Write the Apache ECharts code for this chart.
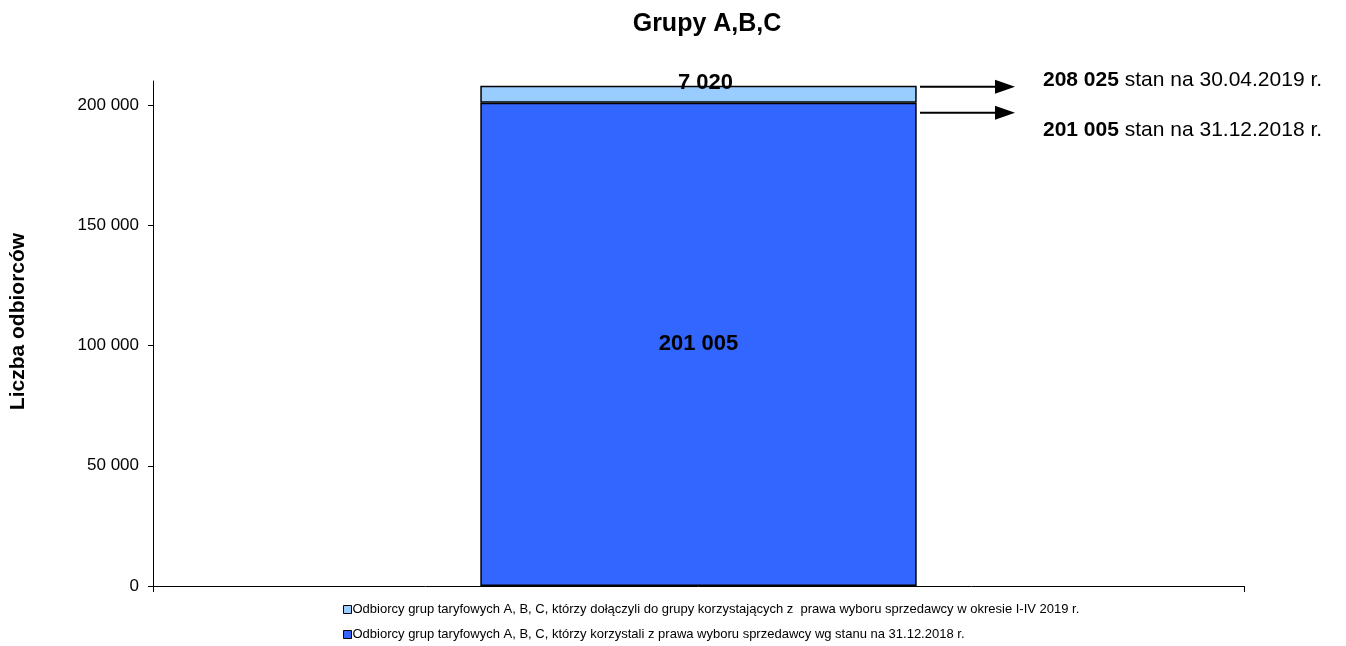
<!DOCTYPE html>
<html>
<head>
<meta charset="utf-8">
<script src="https://cdn.jsdelivr.net/npm/echarts@6/dist/echarts.min.js"></script>
<style>
html, body { margin: 0; padding: 0; background: #fff; }
#chart { width: 1346px; height: 646px; }
</style>
</head>
<body>
<div id="chart"></div>
<script>
// dane
var categories = ['Grupy A,B,C'];
var seriesNames = [
	'Odbiorcy grup taryfowych A, B, C, którzy korzystali z prawa wyboru sprzedawcy wg stanu na 31.12.2018 r.',
	'Odbiorcy grup taryfowych A, B, C, którzy dołączyli do grupy korzystających z  prawa wyboru sprzedawcy w okresie I-IV 2019 r.'
];
var baseValues = [201005];
var addedValues = [7020];
var yTicks = [0, 50000, 100000, 150000, 200000];
var notes = [
	{ value: 208025, text: 'stan na 30.04.2019 r.' },
	{ value: 201005, text: 'stan na 31.12.2018 r.' }
];

var FONT = '"Liberation Sans", Arial, sans-serif';

var fmt = function(v){
	return String(v).replace(/\B(?=(\d{3})+(?!\d))/g, ' ');
};

var chart = echarts.init(document.getElementById('chart'));

var option = {
	animation: false,
	backgroundColor: '#fff',
	textStyle: { fontFamily: FONT, color: '#000' },
	title: {
		text: 'Grupy A,B,C',
		left: 702,
		textAlign: 'center',
		top: 7,
		textStyle: { fontFamily: FONT, fontSize: 25, fontWeight: 'bold', color: '#000' }
	},
	grid: { left: 153, right: 102, top: 81, bottom: 60 },
	legend: {
		orient: 'vertical',
		left: 343,
		top: 603,
		padding: 0,
		icon: 'rect',
		itemWidth: 8,
		itemHeight: 8,
		itemGap: 12,
		itemStyle: { borderColor: '#000', borderWidth: 1 },
		textStyle: { fontFamily: FONT, fontSize: 13, color: '#000', padding: [0, 0, 0, -4] },
		data: [seriesNames[1], seriesNames[0]]
	},
	xAxis: {
		type: 'category',
		data: categories,
		axisLine: { lineStyle: { color: '#000', width: 1 } },
		axisTick: { show: true, length: 6, lineStyle: { color: '#000' } },
		axisLabel: { show: false }
	},
	yAxis: {
		type: 'value',
		min: 0,
		max: 210000,
		interval: 50000,
		name: 'Liczba odbiorców',
		nameLocation: 'middle',
		nameGap: 124,
		nameTextStyle: { fontFamily: FONT, fontSize: 21, fontWeight: 'bold', color: '#000', padding: [0, 0, 0, 24] },
		axisLine: { show: true, lineStyle: { color: '#000', width: 1 } },
		axisTick: { show: true, length: 5, customValues: yTicks, lineStyle: { color: '#000' } },
		axisLabel: {
			customValues: yTicks,
			fontFamily: FONT, fontSize: 17, color: '#000', margin: 14,
			formatter: function(v){ return fmt(v); }
		},
		splitLine: { show: false }
	},
	series: [
		{
			name: seriesNames[0],
			type: 'bar',
			stack: 'all',
			barWidth: '40%',
			data: baseValues,
			itemStyle: { color: '#3366ff', borderColor: '#000', borderWidth: 1.5 },
			label: {
				show: true,
				position: 'inside',
				fontFamily: FONT, fontSize: 22, fontWeight: 'bold', color: '#000',
				formatter: function(p){ return fmt(p.value); }
			}
		},
		{
			name: seriesNames[1],
			type: 'bar',
			stack: 'all',
			barWidth: '40%',
			data: addedValues,
			itemStyle: { color: '#99ccff', borderColor: '#000', borderWidth: 1.5 },
			label: {
				show: true,
				position: 'top',
				distance: -8,
				offset: [7, 0],
				fontFamily: FONT, fontSize: 22, fontWeight: 'bold', color: '#000',
				formatter: function(p){ return fmt(p.value); }
			}
		}
	]
};

chart.setOption(option);

// strzałki i opisy po prawej
var drawNotes = function(){
	var barRight = 917;
	var graphics = [];
	var arrowY = [
		chart.convertToPixel({ yAxisIndex: 0 }, notes[0].value) + 1,
		chart.convertToPixel({ yAxisIndex: 0 }, notes[1].value) + 10
	];
	var textY = [80, 130];
	for(var i = 0; i < notes.length; i++){
		var y = arrowY[i];
		graphics.push({
			type: 'line',
			shape: { x1: barRight + 3, y1: y, x2: barRight + 80, y2: y },
			style: { stroke: '#000', lineWidth: 2 }
		});
		graphics.push({
			type: 'polygon',
			shape: { points: [[barRight + 78, y - 7], [barRight + 98, y], [barRight + 78, y + 7]] },
			style: { fill: '#000' }
		});
		graphics.push({
			type: 'text',
			x: 1043,
			y: textY[i],
			style: {
				text: '{b|' + fmt(notes[i].value) + '} ' + notes[i].text,
				verticalAlign: 'middle',
				fontFamily: FONT, fontSize: 21, fill: '#000',
				rich: { b: { fontFamily: FONT, fontSize: 21, fontWeight: 'bold', fill: '#000' } }
			}
		});
	}
	chart.setOption({ graphic: graphics });
};
drawNotes();
</script>
</body>
</html>
